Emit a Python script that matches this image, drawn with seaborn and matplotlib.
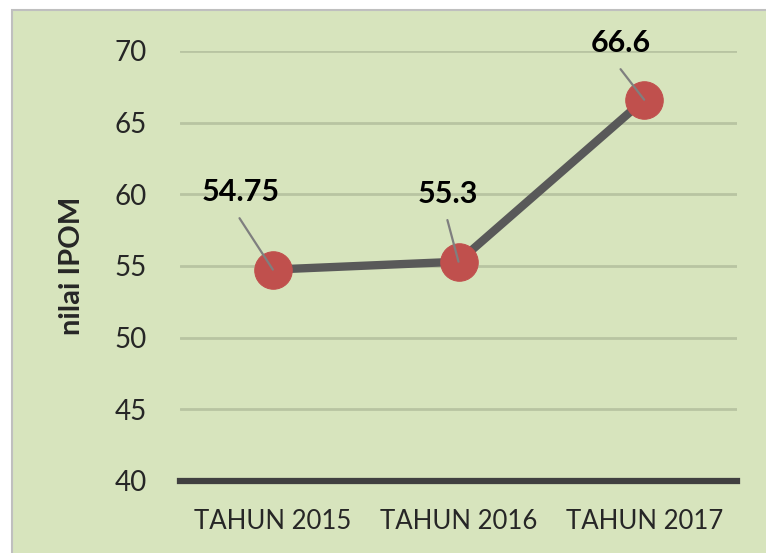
import pandas as pd
import matplotlib.pyplot as plt
import seaborn as sns
from matplotlib.patches import Rectangle

# data
categories = ['TAHUN 2015', 'TAHUN 2016', 'TAHUN 2017']
ipom = [54.75, 55.3, 66.6]
value_labels = ['54.75', '55.3', '66.6']

# label / leader-line offsets in points (text centre, leader start)
text_offsets = [(-23, 56), (-8, 49), (-17, 41)]
leader_offsets = [(-24, 37), (-8, 30), (-17, 22)]

bg = '#d7e4bd'

sns.set_style('white')
plt.rcParams['font.family'] = ['Lato', 'DejaVu Sans']

df = pd.DataFrame({'tahun': categories, 'ipom': ipom})

fig = plt.figure(figsize=(7.66, 5.53), dpi=100)
fig.patch.set_facecolor('white')
# green chart area with grey border (drawn behind the axes)
fig.patches.append(Rectangle((12 / 766, -0.01), 1.0, 1 - 10 / 553 + 0.01,
                             transform=fig.transFigure, facecolor=bg,
                             edgecolor='#bfbfbf', linewidth=1.5, zorder=-10))

ax = fig.add_axes([180 / 766, 72 / 553, 557 / 766, 430 / 553])
ax.set_facecolor('none')

sns.lineplot(data=df, x='tahun', y='ipom', ax=ax, color='#595959',
             linewidth=6, marker='o', markersize=27,
             markerfacecolor='#c0504d', markeredgecolor='#c0504d', zorder=3)

for i, (v, lab) in enumerate(zip(ipom, value_labels)):
    ax.annotate('', xy=(i, v), xytext=leader_offsets[i], textcoords='offset points',
                arrowprops=dict(arrowstyle='-', color='#7f7f7f', lw=1.6,
                                shrinkA=0, shrinkB=0), zorder=4)
    ax.annotate(lab, xy=(i, v), xytext=text_offsets[i], textcoords='offset points',
                ha='center', va='center', fontsize=22, fontweight='bold',
                color='black', zorder=5)

ax.set_xlim(-0.5, 2.5)
ax.set_ylim(40, 70)
ax.set_yticks(range(40, 71, 5))
ax.yaxis.grid(True, color='#b8c4a2', linewidth=2)
ax.set_axisbelow(True)

for s in ['top', 'right', 'left']:
    ax.spines[s].set_visible(False)
ax.spines['bottom'].set_color('#404040')
ax.spines['bottom'].set_linewidth(4.5)

ax.tick_params(axis='y', length=0, pad=24, labelsize=20)
ax.tick_params(axis='x', length=0, pad=20, labelsize=18.5)

ax.set_xlabel('')
ax.set_ylabel('nilai IPOM', fontsize=21, fontweight='bold')
ax.yaxis.set_label_coords(-0.171, 0.5)

fig.savefig('out.png', dpi=100, facecolor=fig.get_facecolor())
